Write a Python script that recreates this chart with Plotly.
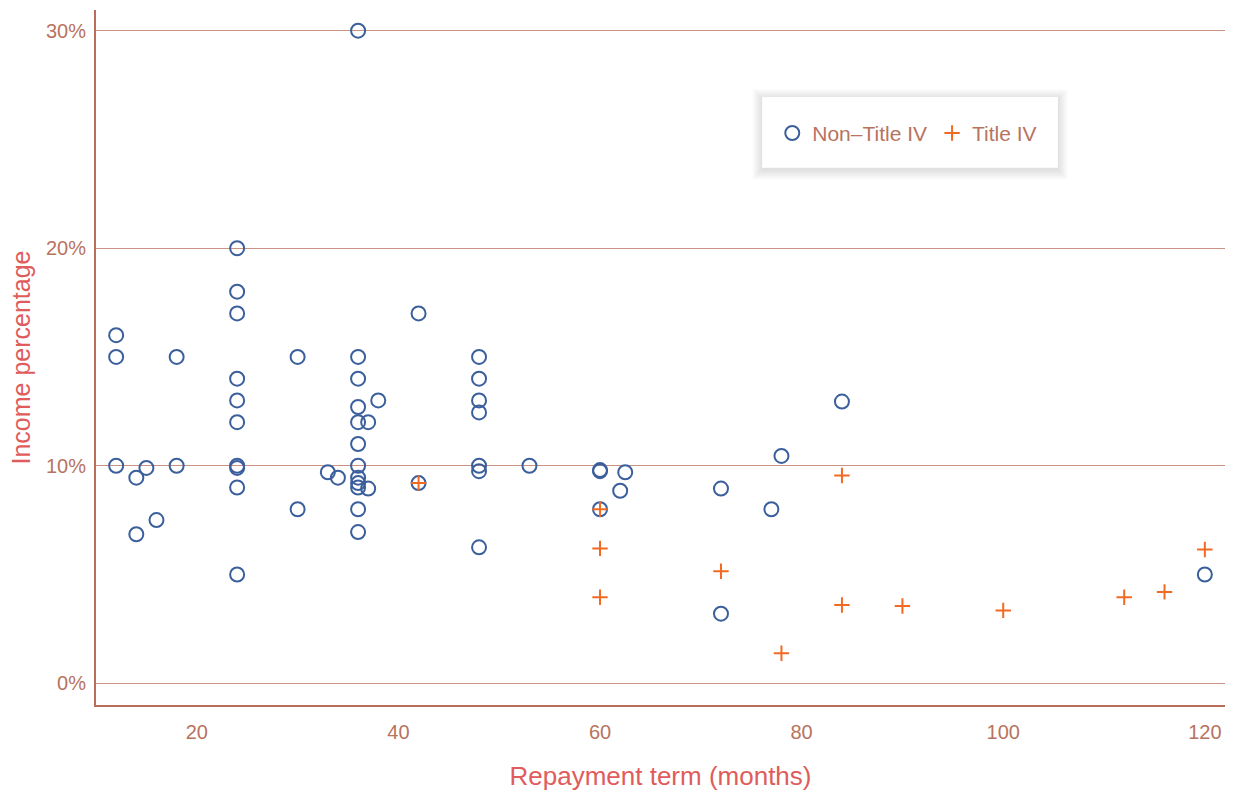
import plotly.graph_objects as go

# Non-Title IV programs (repayment term in months, income percentage)
non_title_term = [36, 12, 12, 18, 24, 24, 24, 24, 24, 24, 24, 24, 24, 24,
                  12, 15, 14, 18, 16, 14, 30, 30,
                  36, 36, 36, 38, 36, 37, 36, 36, 33, 34, 36, 36, 36, 37, 36, 36,
                  42, 42,
                  48, 48, 48, 48, 48, 48, 48, 53,
                  60, 60, 62.5, 62, 60,
                  72, 72, 78, 77, 84, 120]
non_title_pct = [30, 16, 15, 15, 20, 18, 17, 14, 13, 12, 10, 9.9, 9, 5,
                 10, 9.9, 9.45, 10, 7.5, 6.85, 15, 8,
                 15, 14, 12.7, 13, 12, 12, 11, 10, 9.7, 9.45, 9.45, 9.2, 9.0, 8.95, 8, 6.95,
                 9.2, 17,
                 15, 14, 13, 12.45, 10, 9.75, 6.25, 10,
                 9.8, 9.75, 9.7, 8.85, 8,
                 8.95, 3.2, 10.45, 8, 12.95, 5.0]

# Title IV programs
title_term = [42, 60, 60, 60, 72, 78, 84, 84, 90, 100, 112, 116, 120]
title_pct = [9.2, 8, 6.2, 3.95, 5.15, 1.38, 9.55, 3.6, 3.55, 3.35, 3.95, 4.2, 6.15]

x_ticks = [20, 40, 60, 80, 100, 120]
y_ticks = [0, 10, 20, 30]
y_tick_text = ["0%", "10%", "20%", "30%"]

BLUE = "#3b5f9c"
ORANGE = "#f26a21"
AXIS = "#b86e58"
TICK = "#b8735e"
TITLE = "#e05c5c"
GRID = "#c99383"
FONT = "Liberation Sans, Arial, sans-serif"

fig = go.Figure()
fig.add_trace(go.Scatter(
    x=non_title_term, y=non_title_pct, mode="markers", name="Non\u2013Title IV",
    marker=dict(symbol="circle-open", size=14, color=BLUE, line=dict(width=2, color=BLUE)),
))
fig.add_trace(go.Scatter(
    x=title_term, y=title_pct, mode="markers", name="Title IV",
    marker=dict(symbol="cross-thin-open", size=11, color=ORANGE, line=dict(width=2, color=ORANGE)),
))

# legend box with soft shadow (paper coordinates)
PW, PH = 1129.0, 695.0
lx0, lx1, ly0, ly1 = 0.590, 0.852, 0.773, 0.875
for k in range(10, 0, -1):
    dx = k / PW
    dy = k / PH
    off = 2 / PH
    fig.add_shape(type="rect", xref="paper", yref="paper",
                  x0=lx0 - dx, x1=lx1 + dx, y0=ly0 - dy - off, y1=ly1 + dy - off,
                  line=dict(width=0), fillcolor="rgba(0,0,0,0.011)", layer="above")
fig.add_shape(type="rect", xref="paper", yref="paper", x0=lx0, x1=lx1, y0=ly0, y1=ly1,
              line=dict(width=0), fillcolor="white", layer="above")

fig.update_layout(
    width=1233, height=792,
    margin=dict(l=96, r=8, t=10, b=87, autoexpand=False),
    paper_bgcolor="white", plot_bgcolor="white",
    font=dict(family=FONT, size=18, color=TICK),
    showlegend=True,
    legend=dict(orientation="h", x=0.599, y=0.852, xanchor="left", yanchor="top",
                bgcolor="rgba(0,0,0,0)", borderwidth=0,
                font=dict(family=FONT, size=21, color=TICK), itemwidth=30),
    xaxis=dict(range=[10, 122.0], tickvals=x_ticks, showgrid=False, zeroline=False,
               showline=True, linecolor=AXIS, linewidth=2,
               ticks="outside", ticklen=8, tickcolor="rgba(0,0,0,0)",
               tickfont=dict(family=FONT, size=20, color=TICK), automargin=False,
               title=dict(text="Repayment term (months)", font=dict(family=FONT, size=26, color=TITLE),
                          standoff=25)),
    yaxis=dict(range=[-1, 30.95], tickvals=y_ticks, ticktext=y_tick_text, showgrid=True,
               gridcolor=GRID, gridwidth=1, zeroline=False,
               showline=True, linecolor=AXIS, linewidth=2,
               ticks="outside", ticklen=4, tickcolor="rgba(0,0,0,0)",
               tickfont=dict(family=FONT, size=20, color=TICK), automargin=False,
               title=dict(text="Income percentage", font=dict(family=FONT, size=25, color=TITLE),
                          standoff=8)),
)

fig.write_html("out.html", config={"displayModeBar": False},
               post_script="document.body.style.margin='0';")
